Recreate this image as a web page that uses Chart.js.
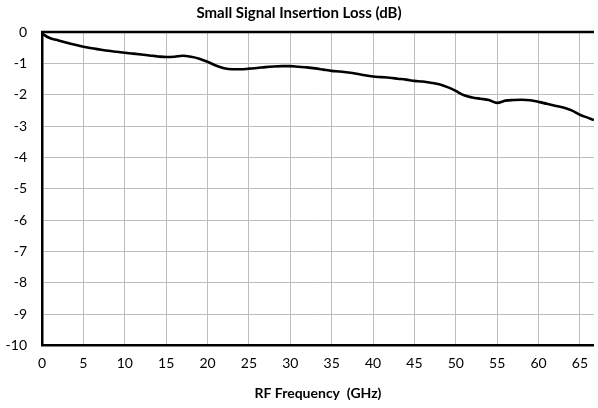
<!DOCTYPE html>
<html>
<head>
<meta charset="utf-8">
<script src="https://cdn.jsdelivr.net/npm/chart.js@4/dist/chart.umd.min.js"></script>
<style>
html,body{margin:0;padding:0;background:#fff;}
#wrap{width:598px;height:408px;position:relative;}
</style>
</head>
<body>
<div id="wrap"><canvas id="c"></canvas></div>
<script>
const freqGHz = [0, 0.3, 1, 2, 3, 4, 5, 6, 7, 8, 9, 10, 11, 12, 13, 14, 15, 16, 17, 18, 19, 20, 21, 22, 23, 24, 25, 26, 27, 28, 29, 30, 31, 32, 33, 34, 35, 36, 37, 38, 39, 40, 41, 42, 43, 44, 45, 46, 47, 48, 49, 50, 51, 52, 53, 54, 55, 56, 57, 58, 59, 60, 61, 62, 63, 64, 65, 66, 66.7];
const lossDB = [-0.02, -0.1, -0.2, -0.27, -0.34, -0.41, -0.47, -0.52, -0.56, -0.6, -0.63, -0.66, -0.69, -0.72, -0.75, -0.78, -0.8, -0.79, -0.76, -0.79, -0.85, -0.95, -1.07, -1.16, -1.19, -1.19, -1.17, -1.15, -1.12, -1.1, -1.09, -1.09, -1.11, -1.13, -1.16, -1.2, -1.24, -1.26, -1.29, -1.33, -1.38, -1.42, -1.44, -1.46, -1.49, -1.52, -1.56, -1.58, -1.62, -1.67, -1.76, -1.88, -2.02, -2.09, -2.13, -2.17, -2.26, -2.19, -2.17, -2.16, -2.18, -2.23, -2.29, -2.35, -2.41, -2.5, -2.64, -2.74, -2.81];
const titleText = 'Small Signal Insertion Loss (dB)';
const xTitle = 'RF Frequency  (GHz)';
const xMin = 0, xMax = 66.7, xStep = 5;
const yMin = -10, yMax = 0, yStep = 1;

const points = freqGHz.map((f, i) => ({x: f, y: lossDB[i]}));

const topBorder = {
  id: 'topBorder',
  afterDraw(chart) {
    const {ctx, chartArea} = chart;
    ctx.save();
    ctx.strokeStyle = '#000';
    ctx.lineWidth = 2.5;
    ctx.beginPath();
    ctx.moveTo(chartArea.left - 1, chartArea.top);
    ctx.lineTo(chartArea.right, chartArea.top);
    ctx.stroke();
    ctx.restore();
  }
};

new Chart(document.getElementById('c'), {
  type: 'line',
  data: {
    datasets: [{
      data: points,
      borderColor: '#000',
      borderWidth: 2.6,
      pointRadius: 0,
      tension: 0.4,
      cubicInterpolationMode: 'monotone',
      fill: false
    }]
  },
  options: {
    responsive: true,
    maintainAspectRatio: false,
    animation: false,
    layout: {padding: {top: 0, right: 0, bottom: 6, left: 0}},
    plugins: {
      legend: {display: false},
      tooltip: {enabled: false},
      title: {
        display: true,
        text: titleText,
        color: '#000',
        font: {family: 'Lato', size: 15, weight: 'bold'},
        padding: {top: 4, bottom: 10}
      }
    },
    scales: {
      x: {
        type: 'linear',
        min: xMin, max: xMax,
        afterBuildTicks(scale) {
          const t = [];
          for (let v = xMin; v <= xMax; v += xStep) t.push({value: v});
          scale.ticks = t;
        },
        ticks: {
          color: '#000',
          font: {family: 'Lato', size: 14},
          padding: 10,
          maxRotation: 0,
          autoSkip: false
        },
        grid: {color: '#bdbdbd', lineWidth: 1, drawTicks: false},
        border: {color: '#000', width: 2.5},
        title: {
          display: true,
          text: xTitle,
          color: '#000',
          font: {family: 'Lato', size: 14, weight: 'bold'},
          padding: {top: 3, bottom: 0}
        }
      },
      y: {
        min: yMin, max: yMax,
        ticks: {
          stepSize: yStep,
          color: '#000',
          font: {family: 'Lato', size: 14},
          padding: 15
        },
        afterFit(scale) { scale.width = 42; },
        grid: {color: '#bdbdbd', lineWidth: 1, drawTicks: false},
        border: {color: '#000', width: 2.5}
      }
    }
  },
  plugins: [topBorder]
});
</script>
</body>
</html>
